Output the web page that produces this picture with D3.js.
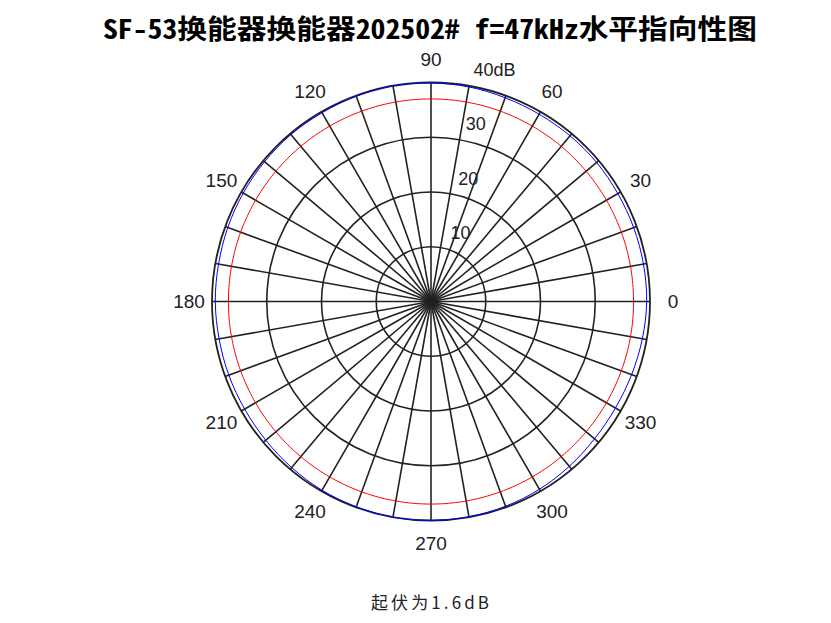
<!DOCTYPE html>
<html><head><meta charset="utf-8">
<script src="https://cdn.jsdelivr.net/npm/d3@7"></script>
<style>body{margin:0;background:#fff}svg{display:block}</style>
</head><body>
<svg id="c" width="831" height="623"></svg>
<script>
const title = "SF-53换能器换能器202502# f=47kHz水平指向性图";
const subtitle = "起伏为1.6dB";
const ringValues = [10, 20, 30, 40];
const ringLabels = ["10", "20", "30", "40dB"];
const spokeAngles = d3.range(0, 360, 10);
const angleLabelValues = [0, 30, 60, 90, 120, 150, 180, 210, 240, 270, 300, 330];
// measured beam pattern (dB), every 10 degrees from 0 to 350
const measAngles = d3.range(0, 360, 10);
const measValues = [39.4, 39.4, 39.4, 39.4, 39.5, 39.5, 39.5, 39.6, 39.8, 39.9,
                    40.0, 39.9, 39.8, 39.8, 39.7, 39.6, 39.5, 39.4, 39.4, 39.3,
                    39.3, 39.3, 39.4, 39.6, 39.8, 39.9, 40.0, 40.0, 39.9, 39.8,
                    39.6, 39.3, 39.0, 38.9, 39.0, 39.2];
const refLevel = 37; // -3 dB reference circle

const svg = d3.select("#c");
const cx = 431, cy = 301.5, R = 219;
const r = d3.scaleLinear().domain([0, 40]).range([0, R]);
const rad = d => d * Math.PI / 180;
const px = (a, v) => cx + r(v) * Math.cos(rad(a));
const py = (a, v) => cy - r(v) * Math.sin(rad(a));
const grid = "#222222";

// rings
svg.append("g").selectAll("circle").data(ringValues).join("circle")
  .attr("cx", cx).attr("cy", cy).attr("r", d => r(d))
  .attr("fill", "none").attr("stroke", grid)
  .attr("stroke-width", d => d === 40 ? 1.8 : 1.6);

// spokes
svg.append("g").selectAll("line").data(spokeAngles).join("line")
  .attr("x1", cx).attr("y1", cy)
  .attr("x2", a => px(a, 40)).attr("y2", a => py(a, 40))
  .attr("stroke", grid).attr("stroke-width", 1.6);

// ring labels
svg.append("g").selectAll("text").data(ringValues).join("text")
  .attr("x", d => cx + r(d) * Math.cos(rad(82)) + 12)
  .attr("y", d => cy - r(d) * Math.sin(rad(82)) - 14.5)
  .attr("dominant-baseline", "central")
  .attr("font-family", "Liberation Sans, Arial, sans-serif")
  .attr("font-size", 18).attr("fill", "#222")
  .text((d, i) => ringLabels[i]);

// angle labels
svg.append("g").selectAll("text").data(angleLabelValues).join("text")
  .attr("x", a => cx + 242 * Math.cos(rad(a)))
  .attr("y", a => cy - 242 * Math.sin(rad(a)))
  .attr("text-anchor", "middle").attr("dominant-baseline", "central")
  .attr("font-family", "Liberation Sans, Arial, sans-serif")
  .attr("font-size", 19).attr("fill", "#222")
  .text(a => a);

// reference circle (red)
const refPts = d3.range(0, 361, 1).map(a => [a, refLevel]);
const line = d3.line().x(d => px(d[0], d[1])).y(d => py(d[0], d[1]));
svg.append("path").datum(refPts).attr("d", line)
  .attr("fill", "none").attr("stroke", "#ff0000").attr("stroke-width", 1);

// measured (blue)
const meas = measAngles.map((a, i) => [a, measValues[i]]);
svg.append("path").datum(meas)
  .attr("d", d3.line().x(d => px(d[0], d[1])).y(d => py(d[0], d[1])).curve(d3.curveCardinalClosed))
  .attr("fill", "none").attr("stroke", "#0000ff").attr("stroke-width", 1);

// title
svg.append("text").attr("x", 430).attr("y", 27)
  .attr("text-anchor", "middle").attr("dominant-baseline", "central")
  .attr("font-family", "Noto Sans Mono CJK SC, Noto Sans CJK SC, sans-serif")
  .attr("font-weight", "bold").attr("font-size", 27).attr("fill", "#000")
  .attr("textLength", 654).attr("lengthAdjust", "spacingAndGlyphs")
  .text(title);

// subtitle
svg.append("text").attr("x", 430).attr("y", 601)
  .attr("text-anchor", "middle").attr("dominant-baseline", "central")
  .attr("font-family", "Noto Sans CJK SC, sans-serif")
  .attr("font-size", 17).attr("fill", "#222")
  .attr("textLength", 118).attr("lengthAdjust", "spacing")
  .text(subtitle);
</script>
</body></html>
